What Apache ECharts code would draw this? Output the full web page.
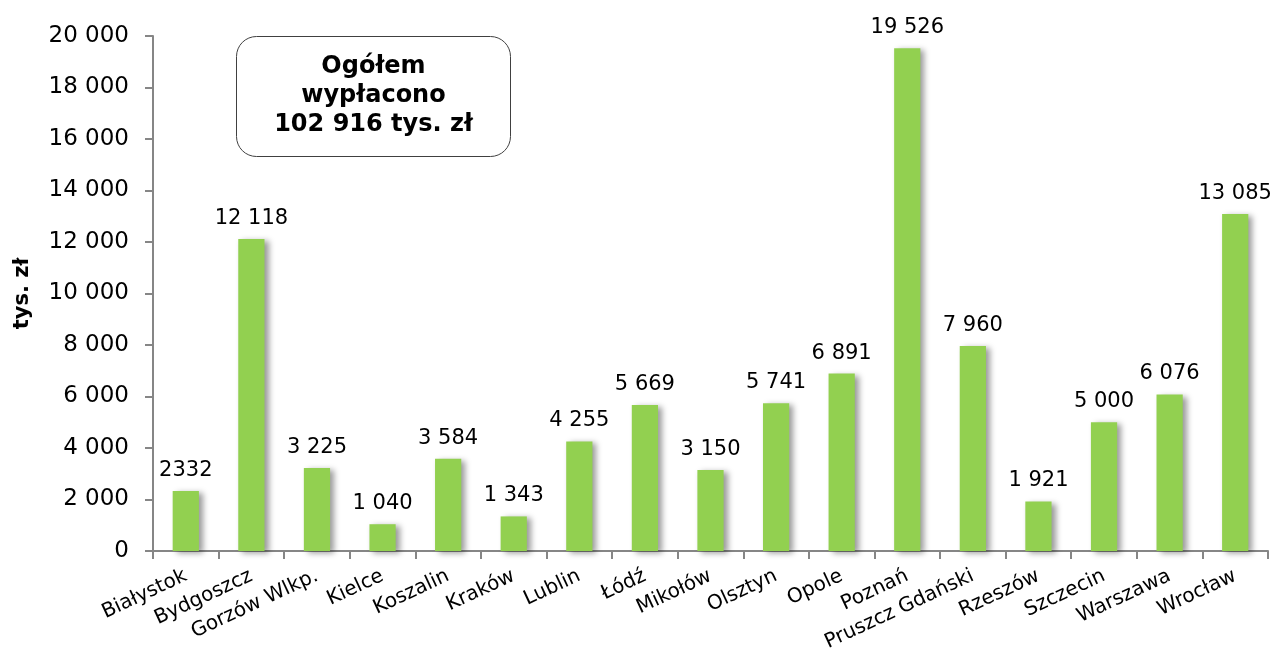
<!DOCTYPE html>
<html><head><meta charset="utf-8">
<script src="https://cdn.jsdelivr.net/npm/echarts@6/dist/echarts.min.js"></script>
<style>html,body{margin:0;padding:0;background:#fff}#c{width:1273px;height:657px}</style>
</head><body><div id="c"></div>
<script>
const categories = ['Białystok','Bydgoszcz','Gorzów Wlkp.','Kielce','Koszalin','Kraków','Lublin','Łódź','Mikołów','Olsztyn','Opole','Poznań','Pruszcz Gdański','Rzeszów','Szczecin','Warszawa','Wrocław'];
const values = [2332,12118,3225,1040,3584,1343,4255,5669,3150,5741,6891,19526,7960,1921,5000,6076,13085];
const valueLabels = ['2332','12 118','3 225','1 040','3 584','1 343','4 255','5 669','3 150','5 741','6 891','19 526','7 960','1 921','5 000','6 076','13 085'];
const yTicks = [0,2000,4000,6000,8000,10000,12000,14000,16000,18000,20000];
const boxLines = ['Ogółem','wypłacono','102 916 tys. zł'];
const yName = 'tys. zł';

const FONT = 'DejaVu Sans';
const fmt = v => { const s = String(Math.round(v)); return s.length > 3 ? s.slice(0, -3) + ' ' + s.slice(-3) : s; };
const chart = echarts.init(document.getElementById('c'));
chart.setOption({
  animation: false,
  textStyle: { fontFamily: FONT },
  grid: { left: 153, right: 5, top: 36, bottom: 106 },
  xAxis: {
    type: 'category', data: categories,
    axisLine: { lineStyle: { color: '#868686', width: 2 } },
    axisTick: { show: true, alignWithLabel: false, length: 8, lineStyle: { color: '#868686', width: 2 } },
    axisLabel: { rotate: 25, interval: 0, fontSize: 20, color: '#000', fontFamily: FONT, margin: 24 }
  },
  yAxis: {
    type: 'value', min: yTicks[0], max: yTicks[yTicks.length - 1], interval: 2000,
    name: yName, nameLocation: 'middle', nameGap: 120, nameRotate: 90,
    nameTextStyle: { fontSize: 21, fontWeight: 'bold', color: '#000', fontFamily: FONT },
    axisLine: { show: true, lineStyle: { color: '#868686', width: 2 } },
    axisTick: { show: true, length: 8, lineStyle: { color: '#868686', width: 2 } },
    splitLine: { show: false },
    axisLabel: { fontSize: 23, color: '#000', fontFamily: FONT, margin: 24, formatter: fmt }
  },
  series: [{
    type: 'bar', data: values, barWidth: '40%',
    itemStyle: { color: '#92D050', shadowColor: 'rgba(0,0,0,0.4)', shadowBlur: 6, shadowOffsetX: 4, shadowOffsetY: 2 },
    label: { show: true, position: 'top', distance: 10, fontSize: 21, color: '#000', fontFamily: FONT,
      formatter: p => valueLabels[p.dataIndex] }
  }],
  graphic: [{
    type: 'group', left: 236, top: 36,
    children: [
      { type: 'rect', shape: { x: 0, y: 0, width: 274, height: 120, r: 20 }, style: { fill: '#fff', stroke: '#404040', lineWidth: 1 } },
      { type: 'text', x: 137, y: 59, style: { text: boxLines.join('\n'), fontSize: 24, fontWeight: 'bold', fontFamily: FONT, fill: '#000', align: 'center', verticalAlign: 'middle', lineHeight: 29 } }
    ]
  }]
});
</script></body></html>
